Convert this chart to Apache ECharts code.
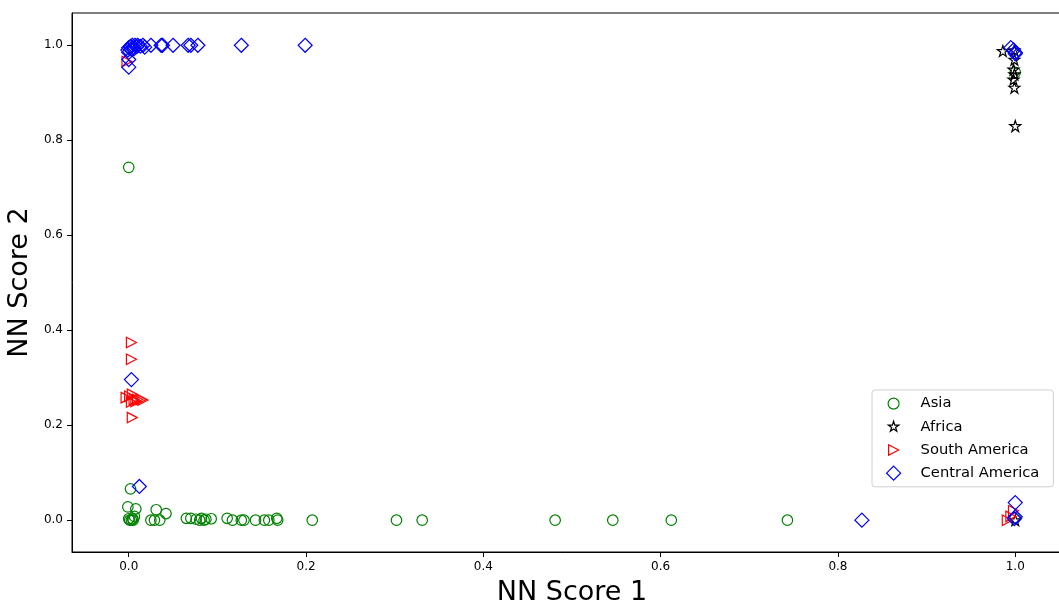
<!DOCTYPE html>
<html>
<head>
<meta charset="utf-8">
<script src="https://cdn.jsdelivr.net/npm/echarts@6/dist/echarts.min.js"></script>
<style>
html,body{margin:0;padding:0;background:#fff;}
#chart{width:1059px;height:600px;}
</style>
</head>
<body>
<div id="chart"></div>
<script>
// ---- data (x = NN Score 1, y = NN Score 2) ----
const seriesNames = ['Asia', 'Africa', 'South America', 'Central America'];
const asia = [
  [0.0,0.743],[0.002,0.066],
  [-0.001,0.028],[0.008,0.024],[0.0,0.003],[0.003,0.0],[0.0045,0.003],[0.0064,0.008],[0.001,0.0],[0.005,0.0],
  [0.031,0.022],[0.042,0.014],[0.025,0.0],[0.029,0.0],[0.035,0.0],
  [0.065,0.004],[0.07,0.004],[0.076,0.002],[0.082,0.004],[0.085,0.0],[0.087,0.002],[0.093,0.003],[0.08,0.0],
  [0.111,0.004],[0.117,0.0],[0.127,0.0],[0.13,0.0],
  [0.143,0.0],[0.153,0.0],[0.158,0.0],[0.167,0.004],[0.168,0.0],
  [0.207,0.0],[0.302,0.0],[0.331,0.0],[0.481,0.0],[0.546,0.0],[0.612,0.0],[0.743,0.0],
  [1.0,0.005],[1.0,0.943]
];
const africa = [
  [0.986,0.988],[0.999,0.97],[0.998,0.949],[0.999,0.939],[0.998,0.928],[0.999,0.911],[1.0,0.83],[1.0,0.0],[0.999,0.99]
];
const southAmerica = [
  [-0.002,0.966],[0.003,0.374],[0.003,0.339],[-0.003,0.258],[0.001,0.261],[0.004,0.265],[0.006,0.254],
  [0.01,0.254],[0.014,0.254],[0.016,0.253],[0.003,0.249],[0.008,0.25],[0.004,0.216],
  [0.991,0.0],[0.995,0.008],[0.998,0.02]
];
const centralAmerica = [
  [0.0,0.995],[0.002,0.998],[0.004,1.0],[0.007,1.0],[0.01,1.0],[0.013,0.998],[0.016,1.0],[0.018,0.996],
  [-0.001,0.99],[0.003,0.992],[0.0,0.985],[0.006,0.993],[0.009,0.997],[0.0,0.97],[0.0,0.954],
  [0.025,1.0],[0.0365,1.0],[0.038,1.0],[0.05,1.0],[0.067,1.0],[0.07,1.0],[0.078,1.0],[0.127,1.0],[0.199,1.0],
  [0.003,0.296],[0.012,0.071],
  [0.827,0.0],[1.0,0.037],[1.0,0.007],[0.999,0.003],
  [0.995,0.995],[0.998,0.99],[1.0,0.985],[1.0,0.982]
];
const xTicks = [0, 0.2, 0.4, 0.6, 0.8, 1.0];
const yTicks = [0, 0.2, 0.4, 0.6, 0.8, 1.0];

// ---- styling ----
const FONT = 'DejaVu Sans';
const STAR = 'path://M50,0 L61.2,34.5 L97.6,34.5 L68.2,55.9 L79.4,90.5 L50,69.1 L20.6,90.5 L31.8,55.9 L2.4,34.5 L38.8,34.5 Z';
const TRI_RIGHT = 'path://M0,0 L100,50 L0,100 Z';
// legend icons: same shapes padded inside a 14x14 box (extra moveTo points widen the bounding box)
const LEG_CIRCLE = 'path://M0,0 M140,140 M70,15 A55,55 0 1,1 70,125 A55,55 0 1,1 70,15 Z';
const LEG_STAR = 'path://M0,0 M140,140 M70,15 L82.3,53 L122.3,53 L90,76.5 L102.3,114.5 L70,91 L37.7,114.5 L50,76.5 L17.7,53 L57.7,53 Z';
const LEG_TRI = 'path://M0,0 M140,140 M20,17.5 L120,70 L20,122.5 Z';
const styles = [
  {symbol:'circle', size:10.5, color:'#008000', legend:LEG_CIRCLE},
  {symbol:STAR, size:11, color:'#000000', legend:LEG_STAR},
  {symbol:TRI_RIGHT, size:[10,10.5], color:'#ff0000', legend:LEG_TRI},
  {symbol:'diamond', size:[14,14], color:'#0000ff', legend:'diamond'}
];
const datasets = [asia, africa, southAmerica, centralAmerica];

const chart = echarts.init(document.getElementById('chart'), null, {renderer:'canvas'});
const series = datasets.map((d, i) => ({
  name: seriesNames[i],
  type: 'scatter',
  data: d,
  symbol: styles[i].symbol,
  symbolSize: styles[i].size,
  itemStyle: {color: 'rgba(0,0,0,0)', borderColor: styles[i].color, borderWidth: 1.2, opacity: 1},
  emphasis: {disabled: true},
  z: 2 + i
}));

const axisCommon = {
  type: 'value',
  axisLine: {show: true, onZero: false, lineStyle: {color: '#000', width: 1}},
  axisTick: {show: true, length: 5, lineStyle: {color: '#000', width: 1}},
  splitLine: {show: false},
  nameLocation: 'middle',
  nameTextStyle: {fontFamily: FONT, fontSize: 27, color: '#000'}
};

chart.setOption({
  animation: false,
  backgroundColor: '#fff',
  grid: {left: 72, top: 13, width: 1000, height: 539, show: true, borderColor: '#000', borderWidth: 1,
         backgroundColor: 'transparent', containLabel: false, outerBoundsMode: 'none'},
  xAxis: Object.assign({}, axisCommon, {
    min: -0.064, max: 1.064,
    name: 'NN Score 1', nameGap: 27,
    axisTick: Object.assign({}, axisCommon.axisTick, {customValues: xTicks}),
    axisLabel: {customValues: xTicks, formatter: v => v.toFixed(1), margin: 9, fontFamily: FONT, fontSize: 12, color: '#000'}
  }),
  yAxis: Object.assign({}, axisCommon, {
    min: -0.067, max: 1.068,
    name: 'NN Score 2', nameGap: 36,
    axisTick: Object.assign({}, axisCommon.axisTick, {customValues: yTicks}),
    axisLabel: {customValues: yTicks, formatter: v => v.toFixed(1), margin: 9, fontFamily: FONT, fontSize: 12, color: '#000'}
  }),
  legend: {
    orient: 'vertical',
    left: 872, top: 390,
    padding: [6, 14, 6, 14],
    itemGap: 8,
    itemWidth: 14, itemHeight: 14,
    backgroundColor: '#fff',
    borderColor: '#d0d0d0', borderWidth: 1, borderRadius: 3,
    textStyle: {fontFamily: FONT, fontSize: 14.7, color: '#000', padding: [0, 0, 0, 15]},
    data: seriesNames.map((n, i) => ({
      name: n,
      icon: styles[i].legend,
      itemStyle: {color: 'rgba(0,0,0,0)', borderColor: styles[i].color, borderWidth: 1.2}
    })),
    selectedMode: false
  },
  series: series
});
</script>
</body>
</html>
